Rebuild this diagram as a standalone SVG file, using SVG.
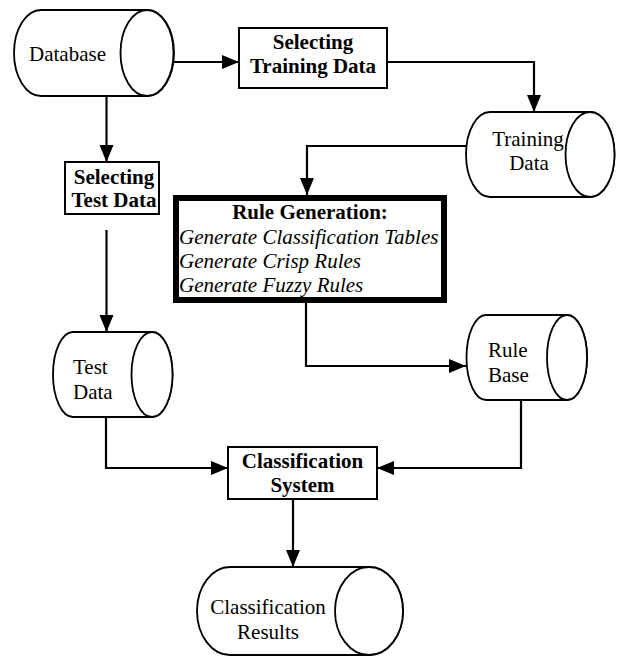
<svg xmlns="http://www.w3.org/2000/svg" width="618" height="657" viewBox="0 0 618 657">
<defs>
<marker id="arr" markerUnits="userSpaceOnUse" markerWidth="18" markerHeight="16" refX="17" refY="7" orient="auto">
<path d="M0,0 L17,7 L0,14 Z" fill="#000"/>
</marker>
<style>
.cyl{fill:#fff;stroke:#000;stroke-width:1.8}
.box{fill:#fff;stroke:#000;stroke-width:2}
.thick{fill:#fff;stroke:#000;stroke-width:6}
.c{fill:none;stroke:#000;stroke-width:2.2;marker-end:url(#arr)}
.b{font-weight:bold}
.i{font-style:italic}
.m{text-anchor:middle}
</style>
</defs>
<rect width="618" height="657" fill="#fff"/>
<g id="connectors">
<path class="c" d="M173,62 L239,62"/>
<path class="c" d="M387,62 L534,62 L534,112"/>
<path class="c" d="M106.5,96 L106.5,162"/>
<path class="c" d="M106.5,230 L106.5,332"/>
<path class="c" d="M466,146 L307,146 L307,195"/>
<path class="c" d="M306,303 L306,366 L466,366"/>
<path class="c" d="M106,417 L106,468 L228,468"/>
<path class="c" d="M521,400 L521,468 L377,468"/>
<path class="c" d="M293,499 L293,567"/>
</g>
<g font-family="'Liberation Serif', 'Times New Roman', 'DejaVu Serif', serif" font-size="21" fill="#000">
<g id="database">
<path class="cyl" d="M41,10 L147,10 A27,43 0 0 1 147,96 L41,96 A27,43 0 0 1 41,10 Z"/>
<ellipse class="cyl" cx="147" cy="53" rx="26.5" ry="43"/>
<text x="29" y="61">Database</text>
</g>
<g id="select-training">
<rect class="box" x="239" y="28" width="148" height="60"/>
<text class="b m" x="313" y="49">Selecting</text>
<text class="b m" x="313" y="73">Training Data</text>
</g>
<g id="training-data">
<path class="cyl" d="M490,112 L590,112 A24.5,42.5 0 0 1 590,197 L490,197 A24,42.5 0 0 1 490,112 Z"/>
<ellipse class="cyl" cx="590" cy="154.5" rx="24.5" ry="42.5"/>
<text class="m" x="528" y="146">Training</text>
<text class="m" x="529" y="170">Data</text>
</g>
<g id="select-test">
<rect class="box" x="65" y="162" width="94" height="52"/>
<text class="b m" x="114" y="184">Selecting</text>
<text class="b m" x="114" y="207">Test Data</text>
</g>
<g id="rule-generation">
<rect class="thick" x="176" y="198" width="268" height="102"/>
<text class="b m" x="310" y="219">Rule Generation:</text>
<text class="i" x="179" y="244">Generate Classification Tables</text>
<text class="i" x="179" y="268">Generate Crisp Rules</text>
<text class="i" x="179" y="292">Generate Fuzzy Rules</text>
</g>
<g id="test-data">
<path class="cyl" d="M73,332 L152,332 A20.5,42.5 0 0 1 152,417 L73,417 A20,42.5 0 0 1 73,332 Z"/>
<ellipse class="cyl" cx="152" cy="374.5" rx="20.5" ry="42.5"/>
<text x="73" y="374">Test</text>
<text x="73" y="399">Data</text>
</g>
<g id="rule-base">
<path class="cyl" d="M486,315 L567,315 A20,42.5 0 0 1 567,400 L486,400 A19.5,42.5 0 0 1 486,315 Z"/>
<ellipse class="cyl" cx="567" cy="357.5" rx="20" ry="42.5"/>
<text x="488" y="357">Rule</text>
<text x="488" y="382">Base</text>
</g>
<g id="classification-system">
<rect class="box" x="228" y="447" width="149" height="52"/>
<text class="b m" x="302.5" y="468">Classification</text>
<text class="b m" x="302.5" y="492">System</text>
</g>
<g id="classification-results">
<path class="cyl" d="M230,567 L369,567 A34,44 0 0 1 369,655 L230,655 A33,44 0 0 1 230,567 Z"/>
<ellipse class="cyl" cx="369" cy="611" rx="34" ry="44"/>
<text class="m" x="268" y="614">Classification</text>
<text class="m" x="268" y="639">Results</text>
</g>
</g>
</svg>
